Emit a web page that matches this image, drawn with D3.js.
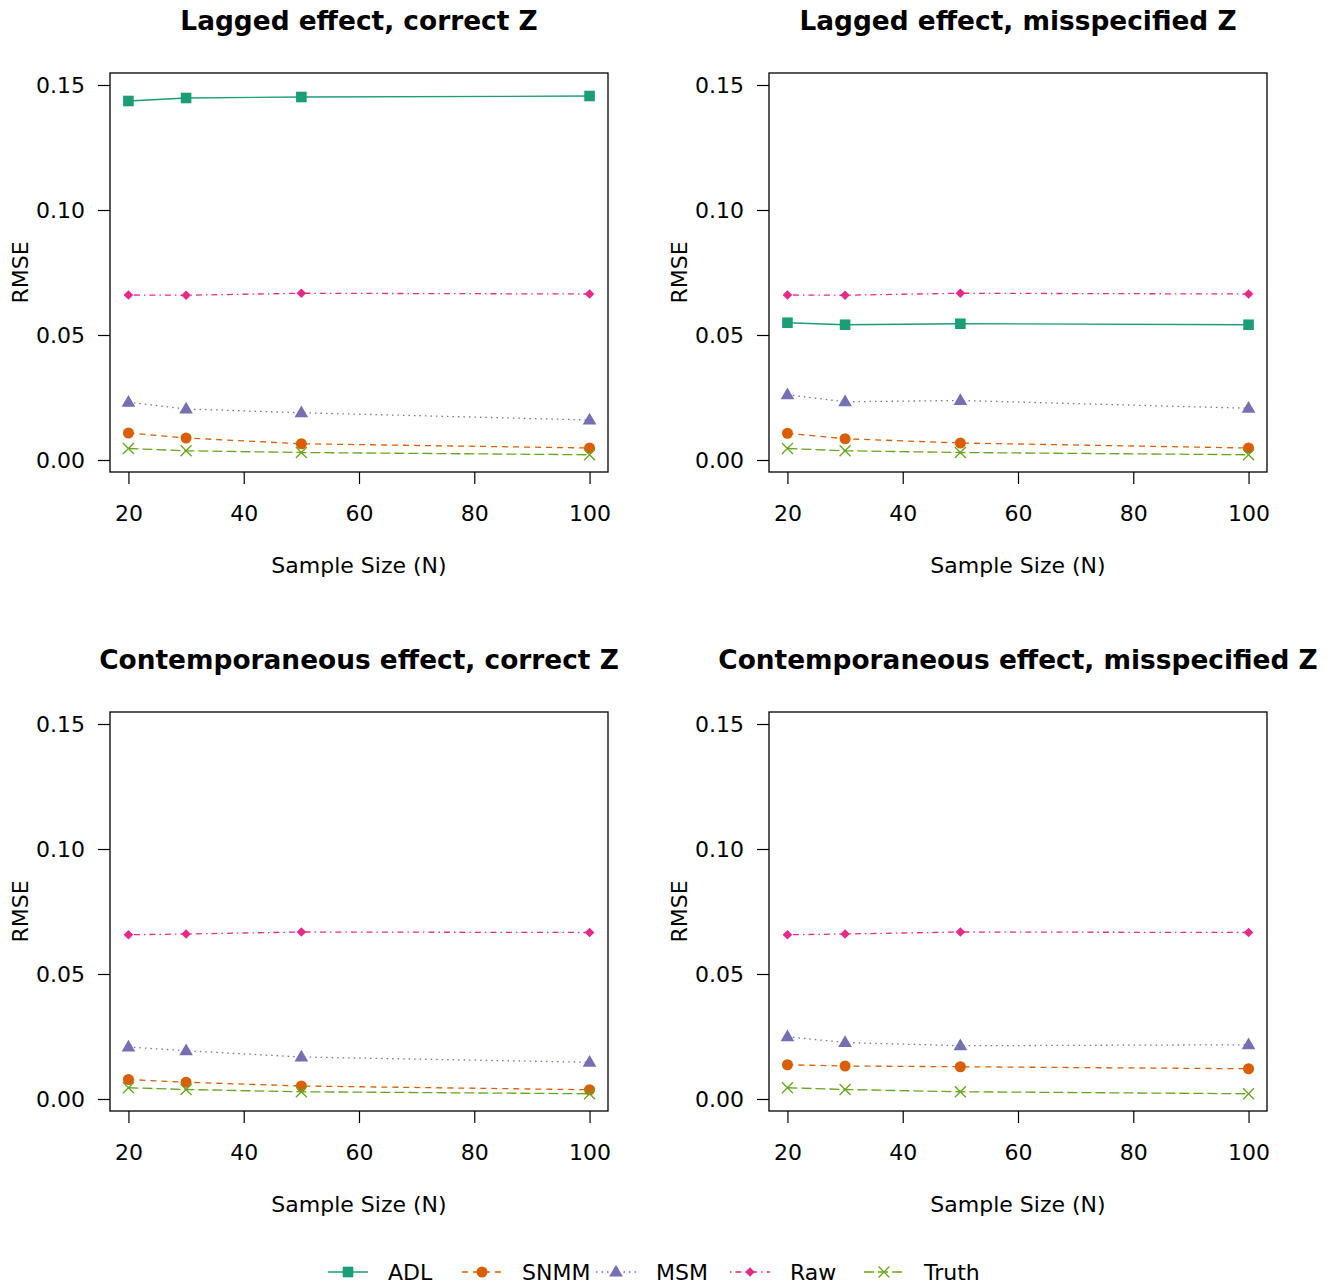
<!DOCTYPE html>
<html>
<head>
<meta charset="utf-8">
<script src="https://cdn.jsdelivr.net/npm/d3@7"></script>
<style>
  html, body { margin: 0; padding: 0; background: #fff; }
  svg { display: block; font-family: "DejaVu Sans", sans-serif; }
</style>
</head>
<body>
<svg id="chart" width="1330" height="1285"></svg>
<script>
// ---------------- DATA ----------------
const sampleSizes = [20, 30, 50, 100];
const xTicks = [20, 40, 60, 80, 100];
const yTicks = [0.00, 0.05, 0.10, 0.15];
const seriesNames = ["ADL", "SNMM", "MSM", "Raw", "Truth"];
const seriesColors = ["#1B9E77", "#D95F02", "#7570B3", "#E7298A", "#66A61E"];
const panelTitles = [
  "Lagged effect, correct Z",
  "Lagged effect, misspecified Z",
  "Contemporaneous effect, correct Z",
  "Contemporaneous effect, misspecified Z"
];

// Lagged effect, correct Z
const lagCorrectADL   = [0.1436, 0.1448, 0.1452, 0.1456];
const lagCorrectSNMM  = [0.0108, 0.0088, 0.0065, 0.0048];
const lagCorrectMSM   = [0.0231, 0.0204, 0.0189, 0.0160];
const lagCorrectRaw   = [0.0660, 0.0659, 0.0667, 0.0664];
const lagCorrectTruth = [0.0046, 0.0037, 0.0030, 0.0021];

// Lagged effect, misspecified Z
const lagMisADL   = [0.0549, 0.0541, 0.0545, 0.0541];
const lagMisSNMM  = [0.0107, 0.0085, 0.0068, 0.0048];
const lagMisMSM   = [0.0261, 0.0233, 0.0238, 0.0207];
const lagMisRaw   = [0.0660, 0.0659, 0.0667, 0.0664];
const lagMisTruth = [0.0046, 0.0037, 0.0030, 0.0021];

// Contemporaneous effect, correct Z
const conCorrectSNMM  = [0.0078, 0.0067, 0.0052, 0.0037];
const conCorrectMSM   = [0.0208, 0.0193, 0.0168, 0.0147];
const conCorrectRaw   = [0.0657, 0.0660, 0.0668, 0.0666];
const conCorrectTruth = [0.0045, 0.0038, 0.0029, 0.0021];

// Contemporaneous effect, misspecified Z
const conMisSNMM  = [0.0137, 0.0132, 0.0129, 0.0121];
const conMisMSM   = [0.0249, 0.0226, 0.0213, 0.0217];
const conMisRaw   = [0.0657, 0.0660, 0.0668, 0.0666];
const conMisTruth = [0.0045, 0.0038, 0.0029, 0.0021];

// ------------- build panel tables -------------
const panelSeries = [
  [lagCorrectADL, lagCorrectSNMM, lagCorrectMSM, lagCorrectRaw, lagCorrectTruth],
  [lagMisADL, lagMisSNMM, lagMisMSM, lagMisRaw, lagMisTruth],
  [null, conCorrectSNMM, conCorrectMSM, conCorrectRaw, conCorrectTruth],
  [null, conMisSNMM, conMisMSM, conMisRaw, conMisTruth]
];

// ------------- styles -------------
const dashes = ["none", "6,5", "1.5,4", "1.5,4,6,4", "10,4"];
const boxes = [
  {x0: 110, x1: 608, y0: 73, y1: 472},
  {x0: 769, x1: 1267, y0: 73, y1: 472},
  {x0: 110, x1: 608, y0: 712, y1: 1111},
  {x0: 769, x1: 1267, y0: 712, y1: 1111}
];
const FONT = 22;

const svg = d3.select("#chart");

function drawMarker(g, type, x, y, color) {
  if (type === 0) { // square
    g.append("rect").attr("x", x - 5.3).attr("y", y - 5.3).attr("width", 10.6).attr("height", 10.6).attr("fill", color);
  } else if (type === 1) { // filled circle
    g.append("circle").attr("cx", x).attr("cy", y).attr("r", 5.5).attr("fill", color);
  } else if (type === 2) { // filled triangle
    const s = 7.2;
    g.append("path").attr("d", `M${x},${y - s}L${x + s * 0.95},${y + s * 0.62}L${x - s * 0.95},${y + s * 0.62}Z`).attr("fill", color);
  } else if (type === 3) { // diamond
    const s = 4.8;
    g.append("path").attr("d", `M${x},${y - s}L${x + s},${y}L${x},${y + s}L${x - s},${y}Z`).attr("fill", color);
  } else if (type === 4) { // x
    const s = 5.5;
    g.append("path").attr("d", `M${x - s},${y - s}L${x + s},${y + s}M${x - s},${y + s}L${x + s},${y - s}`)
      .attr("stroke", color).attr("stroke-width", 1.3).attr("fill", "none");
  }
}

panelSeries.forEach((series, p) => {
  const b = boxes[p];
  const x = d3.scaleLinear().domain([16.8, 103.2]).range([b.x0, b.x1]);
  const y = d3.scaleLinear().domain([-0.0048, 0.1548]).range([b.y1, b.y0]);
  const g = svg.append("g");

  // title
  g.append("text")
    .attr("x", (b.x0 + b.x1) / 2).attr("y", b.y0 - 43)
    .attr("text-anchor", "middle")
    .attr("font-size", FONT * 1.2).attr("font-weight", "bold")
    .text(panelTitles[p]);

  // x axis
  const xAxis = d3.axisBottom(x).tickValues(xTicks).tickSize(12).tickPadding(21).tickFormat(d3.format("d"));
  const xa = g.append("g").attr("transform", `translate(0,${b.y1})`).call(xAxis);
  xa.select(".domain").remove();
  xa.selectAll(".tick line").attr("stroke", "#000").attr("stroke-width", 1.2);
  xa.selectAll(".tick text").attr("font-size", FONT).attr("font-family", "DejaVu Sans").attr("fill", "#000");

  // y axis
  const yAxis = d3.axisLeft(y).tickValues(yTicks).tickSize(12).tickPadding(13).tickFormat(d3.format(".2f"));
  const ya = g.append("g").attr("transform", `translate(${b.x0},0)`).call(yAxis);
  ya.select(".domain").remove();
  ya.selectAll(".tick line").attr("stroke", "#000").attr("stroke-width", 1.2);
  ya.selectAll(".tick text").attr("font-size", FONT).attr("font-family", "DejaVu Sans").attr("fill", "#000");

  // box
  g.append("rect").attr("x", b.x0).attr("y", b.y0).attr("width", b.x1 - b.x0).attr("height", b.y1 - b.y0)
    .attr("fill", "none").attr("stroke", "#000").attr("stroke-width", 1.3);

  // axis titles
  g.append("text").attr("x", (b.x0 + b.x1) / 2).attr("y", b.y1 + 101)
    .attr("text-anchor", "middle").attr("font-size", FONT).text("Sample Size (N)");
  g.append("text").attr("transform", `translate(${b.x0 - 82},${(b.y0 + b.y1) / 2}) rotate(-90)`)
    .attr("text-anchor", "middle").attr("font-size", FONT).text("RMSE");

  // series
  const line = d3.line().x((d, i) => x(sampleSizes[i])).y(d => y(d));
  series.forEach((vals, s) => {
    if (!vals) return;
    g.append("path").datum(vals).attr("d", line)
      .attr("fill", "none").attr("stroke", seriesColors[s]).attr("stroke-width", 1.3)
      .attr("stroke-dasharray", dashes[s]);
    vals.forEach((v, i) => drawMarker(g, s, x(sampleSizes[i]), y(v), seriesColors[s]));
  });
});

// legend
const legendG = svg.append("g");
const legendX = d3.scaleLinear().domain([0, 4]).range([348, 884]);
const legendY = 1272;
seriesNames.forEach((name, s) => {
  const cx = legendX(s);
  legendG.append("line").attr("x1", cx - 20).attr("x2", cx + 20).attr("y1", legendY).attr("y2", legendY)
    .attr("stroke", seriesColors[s]).attr("stroke-width", 1.3).attr("stroke-dasharray", dashes[s]);
  drawMarker(legendG, s, cx, legendY, seriesColors[s]);
  legendG.append("text").attr("x", cx + 40).attr("y", legendY).attr("dy", "0.36em")
    .attr("font-size", FONT).text(name);
});
</script>
</body>
</html>
